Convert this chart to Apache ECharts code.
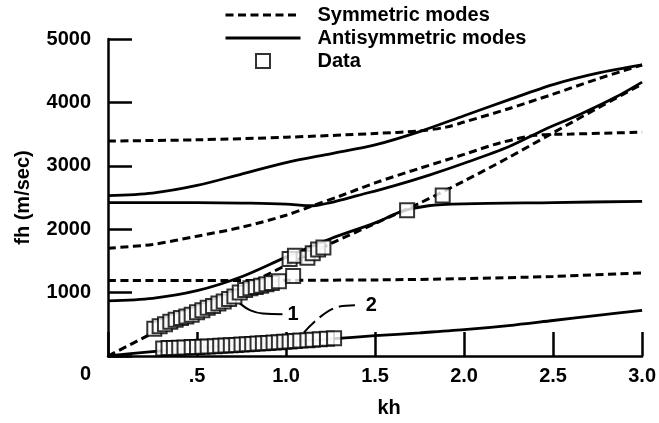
<!DOCTYPE html>
<html>
<head>
<meta charset="utf-8">
<script src="https://cdn.jsdelivr.net/npm/echarts@6/dist/echarts.min.js"></script>
<style>
  html, body { margin: 0; padding: 0; background: #fff; }
  #chart { width: 659px; height: 423px; }
</style>
</head>
<body>
<div id="chart"></div>
<script>
// axis ticks
var xTicks = [0, 0.5, 1.0, 1.5, 2.0, 2.5, 3.0];
var yTicks = [0, 1000, 2000, 3000, 4000, 5000];

// antisymmetric modes (solid) [kh, fh]
var anti0 = [[0,0],[0.25,70],[0.5,130],[0.75,180],[1.0,225],[1.25,270],[1.5,320],[1.75,365],[2.0,415],[2.25,480],[2.5,560],[2.75,640],[3.0,720]];
var anti1 = [[0,870],[0.25,910],[0.5,1030],[0.75,1250],[1.0,1560],[1.25,1850],[1.5,2100],[1.65,2280],[1.8,2370],[2.0,2400],[2.5,2420],[3.0,2440]];
var anti2 = [[0,2420],[0.5,2420],[0.8,2410],[1.0,2395],[1.15,2370],[1.25,2420],[1.4,2530],[1.6,2680],[1.8,2850],[2.0,3040],[2.25,3300],[2.45,3570],[2.65,3810],[2.85,4080],[3.0,4320]];
var anti3 = [[0,2530],[0.25,2570],[0.5,2690],[0.75,2870],[1.0,3050],[1.25,3190],[1.5,3330],[1.75,3540],[2.0,3790],[2.25,4040],[2.5,4280],[2.75,4460],[3.0,4590]];

// symmetric modes (dashed) [kh, fh]
var sym0 = [[0,0],[0.25,360],[0.5,720],[0.75,1080],[1.0,1430],[1.25,1770],[1.5,2090],[1.75,2410],[2.0,2760],[2.25,3130],[2.5,3520],[2.75,3910],[3.0,4290]];
var sym1 = [[0,1190],[0.5,1190],[1.0,1195],[1.5,1200],[2.0,1220],[2.5,1255],[3.0,1310]];
var sym2 = [[0,1700],[0.25,1760],[0.5,1890],[0.75,2030],[1.0,2220],[1.15,2370],[1.3,2520],[1.5,2730],[1.75,2960],[2.0,3180],[2.2,3360],[2.4,3480],[2.6,3500],[3.0,3530]];
var sym3 = [[0,3390],[0.5,3410],[1.0,3450],[1.5,3510],[1.75,3550],[1.9,3610],[2.0,3690],[2.25,3900],[2.5,4130],[2.75,4370],[3.0,4590]];

// measured data
var data1 = [[0.26,430],[0.29,470],[0.32,500],[0.35,540],[0.38,570],[0.41,600],[0.44,625],[0.47,650],[0.50,690],[0.53,720],[0.56,760],[0.59,790],[0.62,830],[0.65,860],[0.68,900],[0.71,940],[0.74,1000],[0.77,1040],[0.80,1070],[0.83,1090],[0.86,1110],[0.89,1130],[0.92,1150],[0.96,1180],[1.04,1260],[1.02,1530],[1.05,1580],[1.12,1550],[1.15,1620],[1.18,1680],[1.21,1710],[1.68,2300],[1.88,2530]];
var data2 = [[0.31,120],[0.34,125],[0.37,128],[0.40,130],[0.43,135],[0.47,140],[0.50,142],[0.53,146],[0.56,150],[0.60,155],[0.63,160],[0.66,165],[0.69,170],[0.72,175],[0.75,180],[0.78,186],[0.81,190],[0.84,196],[0.87,200],[0.90,206],[0.93,212],[0.96,218],[0.99,225],[1.02,230],[1.05,236],[1.08,243],[1.12,250],[1.15,258],[1.19,265],[1.23,272],[1.27,280]];

// leader lines for the "1" / "2" callouts
var leader1 = [[0.74,830],[0.8,720],[0.87,670],[0.98,660]];
var leader2 = [[1.1,370],[1.3,780],[1.42,800]];

var FONT = '"Liberation Sans", Arial, sans-serif';
var SYM = 'Symmetric modes', ANTI = 'Antisymmetric modes', DATA = 'Data';

var chart = echarts.init(document.getElementById('chart'));

function solid(d) {
  return { name: ANTI, type: 'line', data: d, smooth: 0.3, symbol: 'none', silent: true,
    itemStyle: { color: '#000' },
    lineStyle: { color: '#000', width: 2.8 }, z: 2 };
}
function dashed(d) {
  return { name: SYM, type: 'line', data: d, smooth: 0.3, symbol: 'none', silent: true,
    itemStyle: { color: '#000' },
    lineStyle: { color: '#000', width: 3, type: [8, 4.5] }, z: 2 };
}
function squares(d) {
  return { name: DATA, type: 'scatter', data: d, symbol: 'rect', symbolSize: 14,
    itemStyle: { color: '#fff', borderColor: '#000', borderWidth: 2 }, z: 4 };
}
function leader(name, d, txt, dash) {
  return { name: name, type: 'line', data: d, smooth: 0.4, symbol: 'none', silent: true,
    lineStyle: { color: '#000', width: 2, type: dash ? [16, 6] : 'solid' }, z: 3,
    endLabel: { show: true, formatter: txt, distance: 5, color: '#000',
      fontSize: 20, fontWeight: 'bold', fontFamily: FONT } };
}

var noDot = { color: 'rgba(0,0,0,0)', borderWidth: 0 };

chart.setOption({
  animation: false,
  backgroundColor: '#fff',
  grid: { left: 108, right: 14, top: 39, bottom: 58 },
  legend: {
    orient: 'vertical', left: 219, top: 0,
    itemWidth: 75, itemHeight: 14, itemGap: 3,
    data: [
      { name: SYM, itemStyle: noDot },
      { name: ANTI, itemStyle: noDot },
      { name: DATA, icon: 'path://M0,0H10V10H0Z',
        itemStyle: { color: '#fff', borderColor: '#000', borderWidth: 2 } }
    ],
    lineStyle: { width: 3 },
    formatter: function (n) { return '{t|' + n + '}'; },
    textStyle: {
      color: '#000',
      rich: { t: { fontSize: 20, fontWeight: 'bold', fontFamily: FONT, color: '#000', padding: [0, 0, 0, 12] } }
    },
    selectedMode: false
  },
  xAxis: {
    type: 'value', min: xTicks[0], max: xTicks[xTicks.length - 1], interval: 0.5,
    name: 'kh', nameLocation: 'middle', nameGap: 42,
    nameTextStyle: { color: '#000', fontSize: 20, fontWeight: 'bold', fontFamily: FONT, padding: [0, 0, 0, 28] },
    axisLine: { lineStyle: { color: '#000', width: 2.5 } },
    axisTick: { inside: true, length: 24, lineStyle: { color: '#000', width: 2.5 } },
    axisLabel: {
      margin: 10, color: '#000', fontSize: 20, fontWeight: 'bold', fontFamily: FONT,
      formatter: function (v) { return v === 0 ? '' : (v === 0.5 ? '.5' : v.toFixed(1)); }
    },
    splitLine: { show: false }
  },
  yAxis: {
    type: 'value', min: yTicks[0], max: yTicks[yTicks.length - 1], interval: 1000,
    name: 'fh (m/sec)', nameLocation: 'middle', nameGap: 75, nameRotate: 90,
    nameTextStyle: { color: '#000', fontSize: 20, fontWeight: 'bold', fontFamily: FONT },
    axisLine: { show: true, lineStyle: { color: '#000', width: 2.5 } },
    axisTick: { show: true, inside: true, length: 24, lineStyle: { color: '#000', width: 2.5 } },
    axisLabel: {
      margin: 17, color: '#000', fontSize: 20, fontWeight: 'bold', fontFamily: FONT,
      formatter: function (v) { return v === 0 ? '{z|0}' : String(v); },
      rich: { z: { fontSize: 20, fontWeight: 'bold', fontFamily: FONT, color: '#000', padding: [36, 0, 0, 0] } }
    },
    splitLine: { show: false }
  },
  series: [
    dashed(sym0), dashed(sym1), dashed(sym2), dashed(sym3),
    solid(anti0), solid(anti1), solid(anti2), solid(anti3),
    leader('lead1', leader1, '1', false),
    leader('lead2', leader2, '2', true),
    squares(data1), squares(data2)
  ]
});
window.onresize = chart.resize;
</script>
</body>
</html>
